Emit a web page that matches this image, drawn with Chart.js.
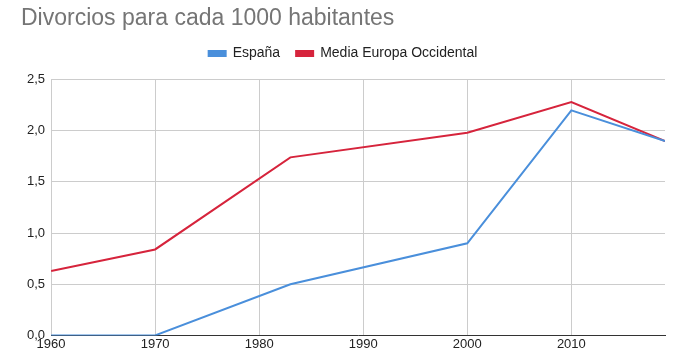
<!DOCTYPE html>
<html>
<head>
<meta charset="utf-8">
<script src="https://cdn.jsdelivr.net/npm/chart.js@4"></script>
<style>
html,body{margin:0;padding:0;background:#fff;}
#wrap{width:695px;height:359px;position:relative;}
</style>
</head>
<body>
<div id="wrap"><canvas id="c" width="695" height="359"></canvas></div>
<script>
const years = [1960, 1970, 1983, 2000, 2010, 2019];
const espana = [0, 0, 0.5, 0.9, 2.2, 1.9];
const europa = [0.63, 0.84, 1.74, 1.98, 2.28, 1.9];
const xTicks = [1960, 1970, 1980, 1990, 2000, 2010];
const yTicks = [0, 0.5, 1, 1.5, 2, 2.5];
const seriesNames = ['España', 'Media Europa Occidental'];
const titleText = 'Divorcios para cada 1000 habitantes';

const toPts = (vals) => years.map((y, i) => ({x: y, y: vals[i]}));
const FONT = "Arial, 'Liberation Sans', sans-serif";

const legendSpacing = {
  id: 'legendSpacing',
  beforeInit(chart) {
    const fit = chart.legend.fit;
    chart.legend.fit = function () { fit.call(this); this.height += 9; };
  }
};

new Chart(document.getElementById('c'), {
  type: 'line',
  data: {
    datasets: [
      {label: seriesNames[0], data: toPts(espana), borderColor: '#4a8fdb', backgroundColor: '#4a8fdb', borderWidth: 2, pointRadius: 0, tension: 0},
      {label: seriesNames[1], data: toPts(europa), borderColor: '#d6243c', backgroundColor: '#d6243c', borderWidth: 2, pointRadius: 0, tension: 0}
    ]
  },
  plugins: [legendSpacing],
  options: {
    responsive: false,
    animation: false,
    layout: {padding: {left: 21, right: 30, top: 0, bottom: 6}},
    plugins: {
      title: {
        display: true, text: titleText, align: 'start',
        color: '#757575', font: {family: FONT, size: 23, weight: 'normal'},
        padding: {top: 5, bottom: -2}
      },
      legend: {
        display: true, position: 'top',
        labels: {
          boxWidth: 17, boxHeight: 5, color: '#222',
          font: {family: FONT, size: 14}, padding: 16
        }
      },
      tooltip: {enabled: false}
    },
    scales: {
      x: {
        type: 'linear', min: 1960, max: 2019,
        afterBuildTicks: (axis) => { axis.ticks = xTicks.map(v => ({value: v})); },
        ticks: {color: '#222', font: {family: FONT, size: 13}, padding: 1, maxRotation: 0,
          callback: (v) => String(v)},
        grid: {color: '#cccccc', drawTicks: false, lineWidth: 1},
        border: {display: true, color: '#333', width: 1}
      },
      y: {
        type: 'linear', min: 0, max: 2.5,
        afterBuildTicks: (axis) => { axis.ticks = yTicks.map(v => ({value: v})); },
        ticks: {color: '#222', font: {family: FONT, size: 13}, padding: 6,
          callback: (v) => v.toFixed(1).replace('.', ',')},
        grid: {color: '#cccccc', drawTicks: false, lineWidth: 1},
        border: {display: false}
      }
    }
  }
});
</script>
</body>
</html>
